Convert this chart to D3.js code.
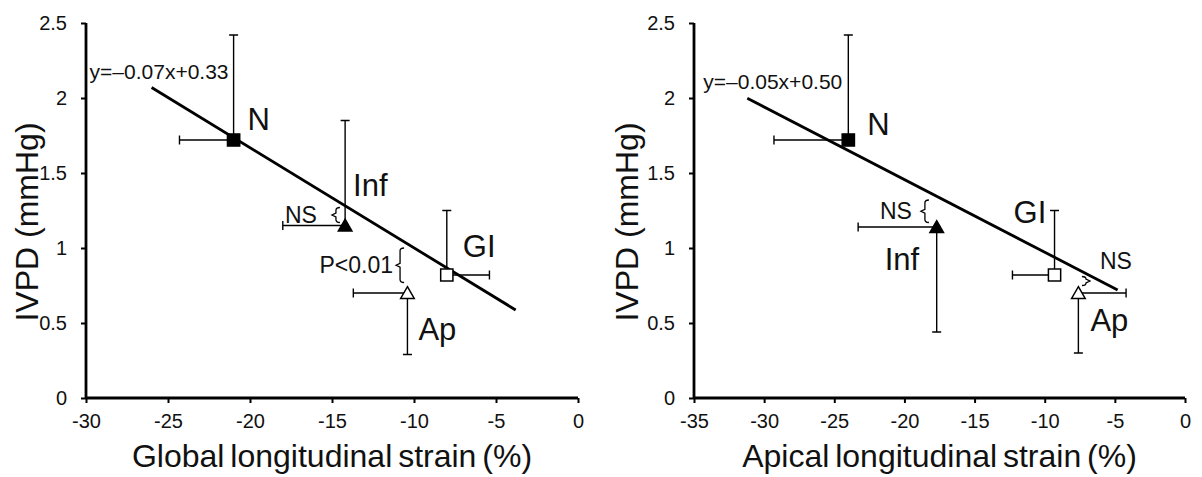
<!DOCTYPE html>
<html>
<head>
<meta charset="utf-8">
<script src="https://cdn.jsdelivr.net/npm/d3@7"></script>
<style>
  body { margin: 0; background: #fff; }
  text { font-family: "Liberation Sans", Arial, sans-serif; fill: #111; }
</style>
</head>
<body>
<script>
const wSvg = 1202;
const hSvg = 477;

// groups, in the same order in both panels
const groups = ["N", "Inf", "GI", "Ap"];
const filled = [true, true, false, false];
const shapes = ["square", "triangle", "square", "triangle"];

// left panel: global longitudinal strain
const glsX = [-21.0, -14.2, -8.0, -10.4];
const glsY = [1.72, 1.15, 0.82, 0.70];
const glsXErr = [-3.3, -3.8, 2.6, -3.3];
const glsYErr = [0.70, 0.70, 0.43, -0.41];
const glsFit = [-0.0668, 0.333];
const glsFitRange = [-26, -3.8];

// right panel: apical longitudinal strain
const alsX = [-24.0, -17.7, -9.3, -7.6];
const alsY = [1.72, 1.14, 0.82, 0.70];
const alsXErr = [-5.3, -5.6, -3.0, 3.4];
const alsYErr = [0.70, -0.70, 0.43, -0.40];
const alsFit = [-0.0484, 0.488];
const alsFitRange = [-31.2, -4.8];

const yTicks = [0, 0.5, 1, 1.5, 2, 2.5];
const glsTicks = [-30, -25, -20, -15, -10, -5, 0];
const alsTicks = [-35, -30, -25, -20, -15, -10, -5, 0];

const svg = d3.select("body").append("svg")
  .attr("width", wSvg)
  .attr("height", hSvg);

const yScale = d3.scaleLinear([0, 2.5], [398, 23]);

function drawPanel(opt) {
  const x = d3.scaleLinear(opt.domain, opt.range);
  const g = svg.append("g");

  // axes
  const yAxis = g.append("g")
    .attr("transform", `translate(${opt.range[0]},0)`)
    .call(d3.axisLeft(yScale).tickValues(yTicks).tickSize(5).tickPadding(14)
      .tickFormat(d => d));
  const xAxis = g.append("g")
    .attr("transform", `translate(0,${yScale(0)})`)
    .call(d3.axisBottom(x).tickValues(opt.ticks).tickSize(5).tickPadding(11)
      .tickFormat(d => d));
  for (const a of [yAxis, xAxis]) {
    a.select(".domain").attr("stroke", "#000").attr("stroke-width", 2.8);
    a.selectAll(".tick line").attr("stroke", "#000").attr("stroke-width", 2);
    a.selectAll(".tick text").attr("font-size", 20).attr("fill", "#333")
      .attr("font-family", "Liberation Sans, Arial, sans-serif");
  }
  yAxis.select(".domain").attr("d", `M0,${yScale(2.5)}V${yScale(0)}`);
  xAxis.select(".domain").attr("d", `M${opt.range[0]},0H${opt.range[1]}`);

  // titles
  g.append("text")
    .attr("x", (opt.range[0] + opt.range[1]) / 2)
    .attr("y", 467)
    .attr("text-anchor", "middle")
    .attr("font-size", 32)
    .attr("word-spacing", -3)
    .text(opt.xTitle);
  g.append("text")
    .attr("transform", `translate(${opt.yTitleX},222) rotate(-90)`)
    .attr("text-anchor", "middle")
    .attr("font-size", 32)
    .text("IVPD (mmHg)");

  // regression line
  const fy = v => opt.fit[0] * v + opt.fit[1];
  g.append("line")
    .attr("x1", x(opt.fitRange[0]))
    .attr("y1", yScale(fy(opt.fitRange[0])))
    .attr("x2", x(opt.fitRange[1]))
    .attr("y2", yScale(fy(opt.fitRange[1])))
    .attr("stroke", "#000")
    .attr("stroke-width", 2.8);

  g.append("text")
    .attr("x", x(opt.fitRange[0]) + opt.eqOff[0])
    .attr("y", yScale(fy(opt.fitRange[0])) + opt.eqOff[1])
    .attr("font-size", 21)
    .attr("fill", "#222")
    .text(opt.eq);

  // error bars
  const cap = 4.5;
  groups.forEach((name, i) => {
    const cx = x(opt.xs[i]), cy = yScale(opt.ys[i]);
    const ex = x(opt.xs[i] + opt.xErr[i]);
    const ey = yScale(opt.ys[i] + opt.yErr[i]);
    g.append("path")
      .attr("d", `M${cx},${cy}V${ey}M${cx - cap},${ey}H${cx + cap}` +
        `M${cx},${cy}H${ex}M${ex},${cy - cap}V${cy + cap}`)
      .attr("stroke", "#000")
      .attr("stroke-width", 1.4)
      .attr("fill", "none");
  });

  // markers
  const sym = {
    square: d3.symbol(d3.symbolSquare, 150),
    triangle: d3.symbol(d3.symbolTriangle, 80)
  };
  groups.forEach((name, i) => {
    g.append("path")
      .attr("d", sym[shapes[i]]())
      .attr("transform", `translate(${x(opt.xs[i])},${yScale(opt.ys[i]) + (shapes[i] === "triangle" ? 1.5 : 0)})`)
      .attr("fill", filled[i] ? "#000" : "#fff")
      .attr("stroke", "#000")
      .attr("stroke-width", 1.5);
  });

  // group labels
  groups.forEach((name, i) => {
    const off = opt.labelOff[i];
    g.append("text")
      .attr("x", x(opt.xs[i]) + off[0])
      .attr("y", yScale(opt.ys[i]) + off[1])
      .attr("font-size", 31)
      .text(name);
  });

  // significance brackets (dir -1: opens right, +1: opens left)
  for (const b of opt.brackets) {
    const bx = x(b.x), y0 = yScale(b.y[1]), y1 = yScale(b.y[0]);
    const ym = (y0 + y1) / 2, d = b.dir * 4, r = Math.min(3, (y1 - y0) / 4);
    g.append("path")
      .attr("d", `M${bx - d},${y0}Q${bx},${y0} ${bx},${y0 + r}V${ym - 2}L${bx + d},${ym}` +
        `L${bx},${ym + 2}V${y1 - r}Q${bx},${y1} ${bx - d},${y1}`)
      .attr("stroke", "#000")
      .attr("stroke-width", 1.3)
      .attr("fill", "none");
    g.append("text")
      .attr("x", bx + b.dx)
      .attr("y", ym + b.dy)
      .attr("text-anchor", b.anchor)
      .attr("font-size", 23)
      .attr("fill", "#222")
      .text(b.label);
  }
}

drawPanel({
  domain: [-30, 0], range: [86, 578], ticks: glsTicks,
  xs: glsX, ys: glsY, xErr: glsXErr, yErr: glsYErr,
  fit: glsFit, fitRange: glsFitRange, eq: "y=\u20130.07x+0.33", eqOff: [-62, -9],
  xTitle: "Global longitudinal strain (%)", yTitleX: 38,
  labelOff: [[14, -10], [8, -30], [16, -18], [11, 47]],
  brackets: [
    { x: -14.76, y: [1.17, 1.27], dir: -1, label: "NS", dx: -19, dy: 8, anchor: "end" },
    { x: -10.85, y: [0.77, 1.0], dir: -1, label: "P<0.01", dx: -7, dy: 8, anchor: "end" }
  ]
});

drawPanel({
  domain: [-35, 0], range: [694, 1185], ticks: alsTicks,
  xs: alsX, ys: alsY, xErr: alsXErr, yErr: alsYErr,
  fit: alsFit, fitRange: alsFitRange, eq: "y=\u20130.05x+0.50", eqOff: [-44, -9],
  xTitle: "Apical longitudinal strain (%)", yTitleX: 638,
  labelOff: [[19, -5], [-52, 43], [-41, -52], [12, 38]],
  brackets: [
    { x: -18.54, y: [1.17, 1.32], dir: -1, label: "NS", dx: -13, dy: 8, anchor: "end" },
    { x: -7.06, y: [0.75, 0.81], dir: 1, label: "NS", dx: 14, dy: -12, anchor: "start" }
  ]
});
</script>
</body>
</html>
